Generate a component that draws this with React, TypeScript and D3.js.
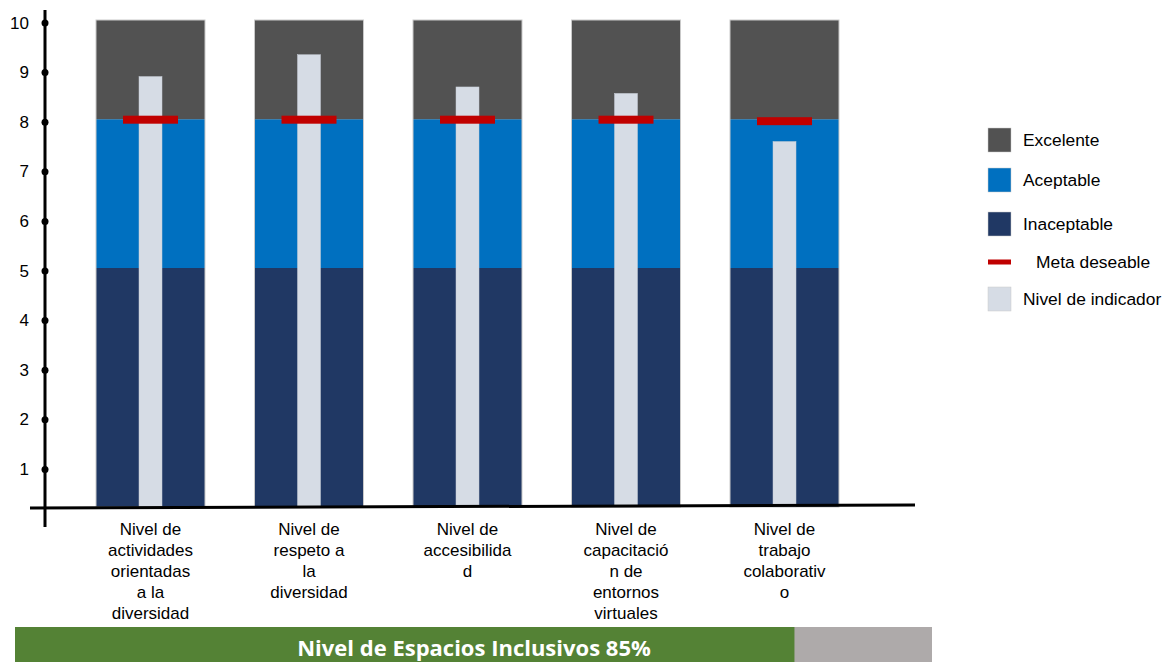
import React from "react";
import * as d3 from "d3";

const categories: string[][] = [
  ["Nivel de", "actividades", "orientadas", "a la", "diversidad"],
  ["Nivel de", "respeto a", "la", "diversidad"],
  ["Nivel de", "accesibilida", "d"],
  ["Nivel de", "capacitació", "n de", "entornos", "virtuales"],
  ["Nivel de", "trabajo", "colaborativ", "o"],
];
const indicatorValues = [8.86, 9.3, 8.65, 8.52, 7.55];
const metaValues = [8, 8, 8, 8, 7.97];
const bandLimits = [
  { name: "Inaceptable", from: 0, to: 5, color: "#203864" },
  { name: "Aceptable", from: 5, to: 8, color: "#0070C0" },
  { name: "Excelente", from: 8, to: 10, color: "#525252" },
];
const yTicks = [1, 2, 3, 4, 5, 6, 7, 8, 9, 10];
const legendItems = [
  { label: "Excelente", type: "rect", color: "#525252" },
  { label: "Aceptable", type: "rect", color: "#0070C0" },
  { label: "Inaceptable", type: "rect", color: "#203864" },
  { label: "Meta deseable", type: "line", color: "#C00000" },
  { label: "Nivel de indicador", type: "rect", color: "#D6DCE5" },
];
const summaryLabel = "Nivel de Espacios Inclusivos 85%";
const summaryValue = 85;

const FONT = "'Liberation Sans', Arial, sans-serif";

export default function App() {
  const W = 1173;
  const H = 662;
  const baseline = 507;
  const y = d3.scaleLinear().domain([0, 10]).range([516, 20]);
  const x = d3
    .scalePoint<number>()
    .domain(d3.range(categories.length))
    .range([150.5, 784.5]);
  const barW = 109;
  const indW = 23;
  const metaW = 55;
  const metaH = 8;

  const sx = d3.scaleLinear().domain([0, 100]).range([15, 932]);

  const legendY = [140, 180, 224, 262, 299];

  return (
    <svg
      width={W}
      height={H}
      style={{ position: "absolute", left: 0, top: 0, background: "#fff" }}
      fontFamily={FONT}
    >
      {/* bars */}
      {categories.map((_, i) => {
        const cx = x(i)!;
        return (
          <g key={i}>
            {bandLimits.map((b) => {
              const top = y(b.to);
              const bot = b.from === 0 ? baseline : y(b.from);
              return (
                <rect
                  key={b.name}
                  x={cx - barW / 2}
                  y={top}
                  width={barW}
                  height={bot - top}
                  fill={b.color}
                />
              );
            })}
            <rect
              x={cx - barW / 2}
              y={y(10)}
              width={barW}
              height={baseline - y(10)}
              fill="none"
              stroke="#c9c9c9"
              strokeWidth={1}
            />
            <rect
              x={cx - indW / 2}
              y={y(indicatorValues[i])}
              width={indW}
              height={baseline - y(indicatorValues[i])}
              fill="#D6DCE5"
              stroke="#c5ccd6"
              strokeWidth={0.5}
            />
            <rect
              x={cx - metaW / 2}
              y={y(metaValues[i]) - metaH / 2 + 0.5}
              width={metaW}
              height={metaH}
              fill="#C00000"
            />
          </g>
        );
      })}

      {/* y axis */}
      <line x1={45} x2={45} y1={10} y2={527} stroke="#000" strokeWidth={3} />
      {yTicks.map((t) => (
        <g key={t}>
          <circle cx={45} cy={y(t) + 3} r={3.5} fill="#000" />
          <text
            x={29}
            y={y(t) + 3}
            textAnchor="end"
            dominantBaseline="central"
            fontSize={17}
            fill="#000"
          >
            {t}
          </text>
        </g>
      ))}
      {/* x axis */}
      <line x1={30} y1={508} x2={915} y2={505} stroke="#000" strokeWidth={3} />

      {/* category labels */}
      {categories.map((lines, i) => (
        <text
          key={i}
          x={x(i)!}
          textAnchor="middle"
          fontSize={17}
          fill="#000"
        >
          {lines.map((l, j) => (
            <tspan key={j} x={x(i)!} y={529 + j * 21} dominantBaseline="central">
              {l}
            </tspan>
          ))}
        </text>
      ))}

      {/* legend */}
      {legendItems.map((it, i) =>
        it.type === "rect" ? (
          <g key={it.label}>
            <rect
              x={988}
              y={legendY[i] - 12}
              width={23}
              height={24}
              fill={it.color}
              stroke="#c9c9c9"
              strokeWidth={0.5}
            />
            <text x={1023} y={legendY[i]} dominantBaseline="central" fontSize={17.4}>
              {it.label}
            </text>
          </g>
        ) : (
          <g key={it.label}>
            <rect x={988} y={legendY[i] - 2.5} width={23} height={5} fill={it.color} />
            <text x={1036} y={legendY[i]} dominantBaseline="central" fontSize={17.4}>
              {it.label}
            </text>
          </g>
        )
      )}

      {/* summary bar */}
      <rect x={sx(0)} y={627} width={sx(100) - sx(0)} height={H - 627} fill="#AEAAAA" />
      <rect x={sx(0)} y={627} width={sx(summaryValue) - sx(0)} height={H - 627} fill="#548235" />
      <text
        x={474}
        y={647}
        textAnchor="middle"
        dominantBaseline="central"
        fontSize={22}
        fontWeight="bold"
        fontFamily="'Open Sans', sans-serif"
        fill="#fff"
      >
        {summaryLabel}
      </text>
    </svg>
  );
}
